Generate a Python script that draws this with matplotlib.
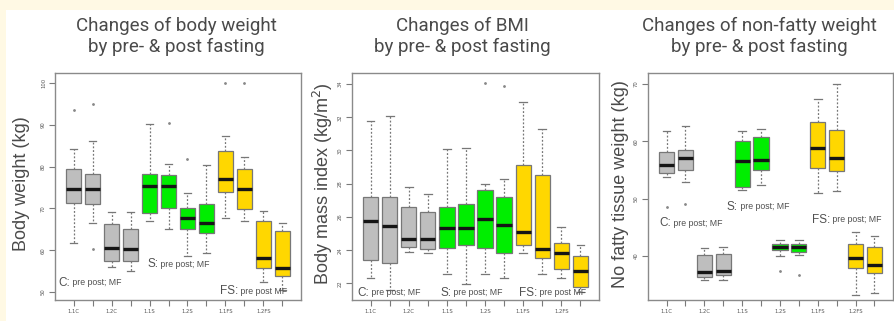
import matplotlib
matplotlib.use("Agg")
import matplotlib.pyplot as plt
from matplotlib.patches import Rectangle
from matplotlib import font_manager

W, H = 895, 321

groups = ["1.1C", "", "1.2C", "", "1.1S", "", "1.2S", "", "1.1FS", "", "1.2FS", ""]
box_colors = ["#BEBEBE"] * 4 + ["#00EE00"] * 4 + ["#FFD700"] * 4

# Panel 1: body weight (kg)
bw_lo  = [61.8, 66.4, 56.0, 55.1, 67.0, 65.1, 58.6, 59.4, 67.8, 67.0, 52.5, 50.5]
bw_q1  = [71.4, 71.0, 57.4, 57.4, 68.8, 70.0, 65.0, 64.2, 73.9, 69.8, 55.7, 53.8]
bw_med = [74.7, 74.6, 60.6, 60.3, 75.4, 75.4, 67.6, 66.6, 77.0, 74.6, 58.2, 55.8]
bw_q3  = [79.5, 78.2, 66.2, 65.2, 78.3, 78.0, 70.0, 71.0, 83.8, 79.4, 67.0, 64.6]
bw_hi  = [84.2, 86.2, 69.1, 69.2, 90.2, 80.6, 73.8, 80.4, 87.4, 82.2, 69.4, 66.5]
bw_out = [[93.6], [95.0, 60.4], [], [], [], [90.4], [81.8], [], [100.0], [100.0], [], []]

# Panel 2: BMI (kg/m2)
bmi_lo  = [22.3, 21.6, 23.9, 23.8, 22.55, 21.95, 22.55, 22.3, 23.85, 22.55, 22.3, 21.5]
bmi_q1  = [23.4, 23.2, 24.2, 24.05, 24.1, 24.3, 24.1, 23.85, 24.3, 23.55, 22.85, 21.8]
bmi_med = [25.75, 25.45, 24.7, 24.65, 25.35, 25.35, 25.9, 25.5, 25.1, 24.05, 23.85, 22.75]
bmi_q3  = [27.2, 27.2, 26.6, 26.3, 26.6, 26.8, 27.6, 27.2, 29.1, 28.5, 24.4, 23.65]
bmi_hi  = [31.75, 32.07, 27.78, 27.4, 30.07, 30.17, 28.0, 28.3, 32.9, 31.3, 25.4, 24.3]
bmi_out = [[], [], [], [], [], [], [34.05], [33.85], [], [], [], []]

# Panel 3: non-fatty tissue weight (kg)
nf_lo  = [53.7, 52.85, 35.8, 35.8, 51.5, 52.4, 39.9, 40.2, 51.0, 51.3, 33.2, 33.5]
nf_q1  = [54.4, 55.0, 36.3, 36.7, 52.1, 54.9, 41.0, 40.6, 55.3, 54.8, 37.8, 37.0]
nf_med = [55.9, 57.0, 37.2, 37.4, 56.5, 56.7, 41.5, 41.5, 58.8, 57.0, 39.6, 38.4]
nf_q3  = [58.2, 58.4, 40.2, 40.3, 60.1, 60.8, 42.1, 42.1, 63.4, 62.0, 42.1, 41.5]
nf_hi  = [61.7, 62.7, 41.3, 41.5, 61.8, 62.1, 42.8, 42.8, 67.4, 70.0, 44.2, 43.5]
nf_out = [[48.6], [49.1], [], [], [], [], [37.4], [36.7], [], [], [], []]

titles = ["Changes of body weight\nby pre- & post fasting",
          "Changes of BMI\nby pre- & post fasting",
          "Changes of non-fatty weight\nby pre- & post fasting"]
ylabels = ["Body weight (kg)", "Body mass index (kg/m$^2$)", "No fatty tissue weight (kg)"]
yticks = [[50, 60, 70, 80, 90, 100], [22, 24, 26, 28, 30, 32, 34], [40, 50, 60, 70]]
ylims = [(48.1, 102.4), (21.0, 34.66), (32.3, 71.9)]

# annotation anchors: (x in box units, y in data units)
notes = [
    [("C:", " pre post; MF", 0.18, 52.2), ("S:", " pre post; MF", 4.87, 56.7), ("FS:", " pre post MF", 8.71, 50.2)],
    [("C:", " pre post; MF", 0.31, 21.45), ("S:", " pre post; MF", 4.65, 21.45), ("FS:", " pre post MF", 8.79, 21.45)],
    [("C:", " pre post; MF", 0.6, 45.7), ("S:", " pre post; MF", 4.18, 48.6), ("FS:", " pre post; MF", 8.67, 46.3)],
]

panels = [
    (bw_lo, bw_q1, bw_med, bw_q3, bw_hi, bw_out),
    (bmi_lo, bmi_q1, bmi_med, bmi_q3, bmi_hi, bmi_out),
    (nf_lo, nf_q1, nf_med, nf_q3, nf_hi, nf_out),
]

ax_px = [(55, 301), (352, 599), (648, 893)]
ax_top, ax_bot = 73, 300
title_x = [176, 462, 759]
ylabel_x = [22, 323, 621]

installed = {f.name for f in font_manager.fontManager.ttflist}
title_fams = [f for f in ["Liberation Sans Narrow", "DejaVu Sans Condensed", "Roboto", "DejaVu Sans"] if f in installed]
title_fam = title_fams[0] if title_fams else "DejaVu Sans"

fig = plt.figure(figsize=(W / 100, H / 100), dpi=100, facecolor="#FFF9E4")
bg = Rectangle((6 / W, 0), 1 - 6 / W, 1 - 10 / H, transform=fig.transFigure,
               facecolor="white", edgecolor="none", zorder=-5)
fig.add_artist(bg)

grey = "#7A7A7A"
txtc = "#4A4A4A"

for i, (lo, q1, med, q3, hi, out) in enumerate(panels):
    x0, x1 = ax_px[i]
    ax = fig.add_axes([x0 / W, 1 - ax_bot / H, (x1 - x0) / W, (ax_bot - ax_top) / H])
    ax.set_zorder(2)
    stats = []
    for k in range(12):
        stats.append(dict(whislo=lo[k], q1=q1[k], med=med[k], q3=q3[k], whishi=hi[k], fliers=out[k]))
    bp = ax.bxp(stats, positions=list(range(1, 13)), widths=0.8, patch_artist=True,
                boxprops=dict(edgecolor="#777777", linewidth=0.9),
                medianprops=dict(color="#151515", linewidth=2.4),
                whiskerprops=dict(color="#777777", linewidth=0.9, linestyle=(0, (1.5, 1.5))),
                capprops=dict(color="#777777", linewidth=0.9),
                capwidths=0.4,
                flierprops=dict(marker="o", markersize=1.0, markerfacecolor="#888888",
                                markeredgecolor="#888888", linestyle="none"))
    for patch, c in zip(bp["boxes"], box_colors):
        patch.set_facecolor(c)
    ax.set_xlim(0.02, 12.98)
    ax.set_ylim(*ylims[i])
    ax.set_xticks(list(range(1, 13)))
    ax.set_xticklabels(groups, fontsize=3.8, color="#555555")
    ax.set_yticks(yticks[i])
    ax.set_yticklabels([str(v) for v in yticks[i]], fontsize=3.8, color="#555555",
                       rotation=90, va="center")
    ax.tick_params(axis="both", length=4, width=0.8, color=grey, pad=2.5)
    for s in ax.spines.values():
        s.set_color("#8A8A8A")
        s.set_linewidth(1.0)
    ax.set_facecolor("white")
    fig.text(ylabel_x[i] / W, 1 - 184 / H, ylabels[i], rotation=90, ha="center", va="center",
             fontsize=13, color=txtc, family="Liberation Sans")
    fig.text(title_x[i] / W, 1 - 36 / H, titles[i], ha="center", va="center",
             fontsize=13.5, color=txtc, family=title_fam, linespacing=1.2)
    for big, small, nx, ny in notes[i]:
        t = ax.text(nx, ny, big, fontsize=8.5, color="#505050", va="center", ha="left",
                    family="Liberation Sans")
        ax.annotate(small, xy=(1, 0.12), xycoords=t, fontsize=6.3, color="#505050",
                    va="bottom", ha="left", family="Liberation Sans")

fig.savefig("out.png", dpi=100, facecolor=fig.get_facecolor())
